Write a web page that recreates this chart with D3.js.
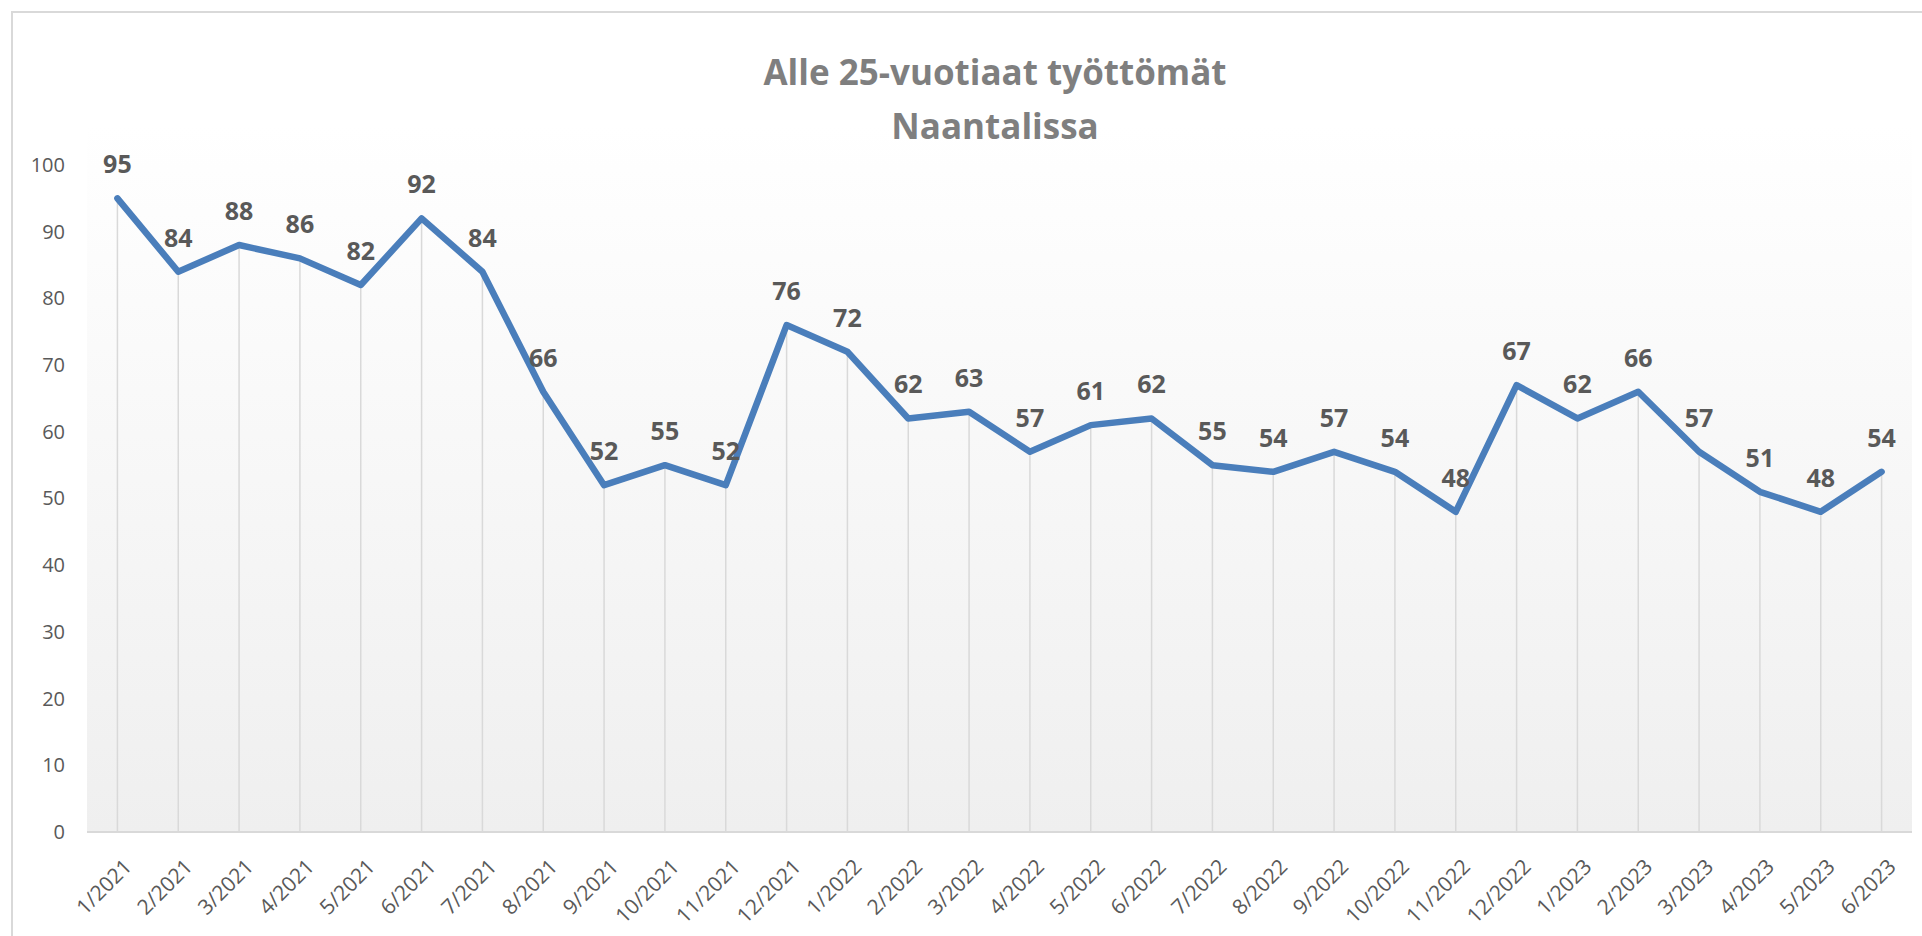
<html>
<head>
    <style>
        body { margin: 0; background: #fff; }
        text { font-family: 'Open Sans', 'Noto Sans', sans-serif; }
        .title { font-size: 35px; font-weight: 700; fill: #7f7f7f; }
        .tick text { font-size: 20px; fill: #595959; }
        .xTicks .tick text { font-size: 21px; }
        .valueLabel { font-size: 25px; font-weight: 700; fill: #595959; }
        .dropLine { stroke: #d9d9d9; stroke-width: 1.5; }
        .pathLine { fill: none; stroke: #4a7ebb; stroke-width: 6.5; stroke-linejoin: round; stroke-linecap: round; }
    </style>
</head>
<body>
    <svg id="container" width="1922" height="936"></svg>
</body>
<script src="https://cdn.jsdelivr.net/npm/d3@7"></script>
<script>
    // months on the x axis
    let months = ["1/2021", "2/2021", "3/2021", "4/2021", "5/2021", "6/2021", "7/2021", "8/2021",
        "9/2021", "10/2021", "11/2021", "12/2021", "1/2022", "2/2022", "3/2022", "4/2022",
        "5/2022", "6/2022", "7/2022", "8/2022", "9/2022", "10/2022", "11/2022", "12/2022",
        "1/2023", "2/2023", "3/2023", "4/2023", "5/2023", "6/2023"];
    // unemployed under 25
    let values = [95, 84, 88, 86, 82, 92, 84, 66, 52, 55, 52, 76, 72, 62, 63, 57,
        61, 62, 55, 54, 57, 54, 48, 67, 62, 66, 57, 51, 48, 54];
    let yTicks = [0, 10, 20, 30, 40, 50, 60, 70, 80, 90, 100];
    let titleLines = ["Alle 25-vuotiaat työttömät", "Naantalissa"];

    let svg = d3.select("#container");
    let plotLeft = 87, plotRight = 1912, plotTop = 165, plotBottom = 832;

    let data = months.map((m, i) => ({ month: m, value: values[i] }));

    // outer chart border (only top and left visible in the crop)
    svg.append("rect")
        .attr("x", 12).attr("y", 12)
        .attr("width", 1960).attr("height", 1000)
        .attr("fill", "#fff")
        .attr("stroke", "#d9d9d9")
        .attr("stroke-width", 2);

    // plot area gradient
    let grad = svg.append("defs").append("linearGradient")
        .attr("id", "plotGrad")
        .attr("x1", 0).attr("y1", 0).attr("x2", 0).attr("y2", 1);
    grad.append("stop").attr("offset", "0%").attr("stop-color", "#ffffff");
    grad.append("stop").attr("offset", "100%").attr("stop-color", "#efefef");

    svg.append("rect")
        .attr("x", plotLeft).attr("y", plotTop - 40)
        .attr("width", plotRight - plotLeft).attr("height", plotBottom - plotTop + 40)
        .attr("fill", "url(#plotGrad)");

    // title
    svg.append("text")
        .attr("class", "title")
        .attr("text-anchor", "middle")
        .selectAll("tspan")
        .data(titleLines)
        .join("tspan")
        .attr("x", 995)
        .attr("y", (d, i) => 85 + i * 54)
        .text(d => d);

    // scales
    let xScale = d3.scalePoint()
        .domain(months)
        .range([plotLeft, plotRight])
        .padding(0.5);

    let yScale = d3.scaleLinear()
        .domain([0, 100])
        .range([plotBottom, plotTop]);

    // y axis
    let yAxis = svg.append("g")
        .attr("transform", `translate(${plotLeft},0)`)
        .call(d3.axisLeft(yScale).tickValues(yTicks).tickSize(0).tickPadding(22));
    yAxis.select(".domain").remove();

    // x axis
    let xAxis = svg.append("g")
        .attr("class", "xTicks")
        .attr("transform", `translate(0,${plotBottom})`)
        .call(d3.axisBottom(xScale).tickSize(0));
    xAxis.select(".domain").remove();
    xAxis.selectAll(".tick text")
        .attr("text-anchor", "end")
        .attr("dy", 0)
        .attr("transform", "translate(13,34) rotate(-45)");

    // drop lines from each point to the axis
    svg.append("g")
        .selectAll("line")
        .data(data)
        .join("line")
        .attr("class", "dropLine")
        .attr("x1", d => xScale(d.month))
        .attr("x2", d => xScale(d.month))
        .attr("y1", d => yScale(d.value))
        .attr("y2", plotBottom);

    // baseline
    svg.append("line")
        .attr("x1", plotLeft).attr("x2", plotRight)
        .attr("y1", plotBottom).attr("y2", plotBottom)
        .attr("stroke", "#d9d9d9")
        .attr("stroke-width", 2);

    // the line
    let valueLine = d3.line()
        .x(d => xScale(d.month))
        .y(d => yScale(d.value));

    svg.append("path")
        .datum(data)
        .attr("d", valueLine)
        .attr("class", "pathLine");

    // value labels above points
    svg.append("g")
        .selectAll("text")
        .data(data)
        .join("text")
        .attr("class", "valueLabel")
        .attr("text-anchor", "middle")
        .attr("x", d => xScale(d.month))
        .attr("y", d => yScale(d.value) - 25)
        .text(d => d.value);
</script>
</html>
